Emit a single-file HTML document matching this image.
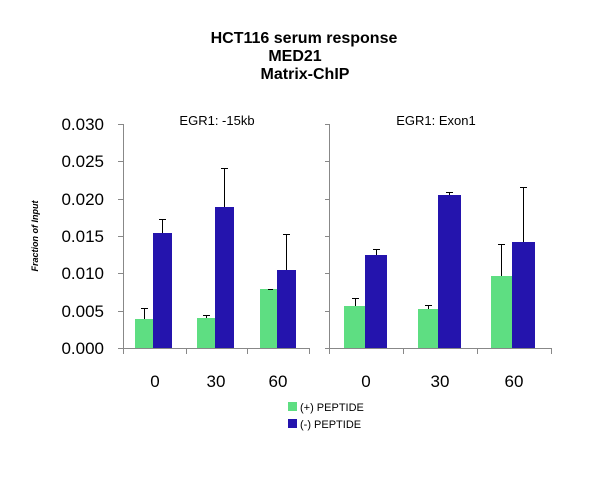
<!DOCTYPE html>
<html><head><style>
body{margin:0;background:#fff;}
svg{display:block;font-family:"Liberation Sans",sans-serif;}
</style></head><body>
<svg width="600" height="499" viewBox="0 0 600 499" xmlns="http://www.w3.org/2000/svg">
<rect width="600" height="499" fill="#fff"/>
<g font-weight="bold" font-size="16" text-anchor="middle" fill="#000">
<text x="304" y="43">HCT116 serum response</text>
<text x="295" y="61">MED21</text>
<text x="305" y="79">Matrix-ChIP</text>
</g>
<g font-size="17" text-anchor="end" fill="#000">
<text x="104" y="130">0.030</text>
<text x="104" y="167">0.025</text>
<text x="104" y="205">0.020</text>
<text x="104" y="242">0.015</text>
<text x="104" y="279">0.010</text>
<text x="104" y="317">0.005</text>
<text x="104" y="354">0.000</text>
</g>
<text transform="translate(38,236) rotate(-90)" font-size="9" font-style="italic" font-weight="bold" text-anchor="middle">Fraction of Input</text>
<g stroke="#888" stroke-width="1" fill="none">
<path d="M123.5 124V348M118 124.5h5.5M118 161.5h5.5M118 199.5h5.5M118 236.5h5.5M118 273.5h5.5M118 311.5h5.5M118 348.5h191"/>
<path d="M123.5 348v6M186.5 348v6M247.5 348v6M309.5 348v6"/>
<path d="M329.5 124V348M325 124.5h4.5M325 161.5h4.5M325 199.5h4.5M325 236.5h4.5M325 273.5h4.5M325 311.5h4.5M325 348.5h226"/>
<path d="M329.5 348v6M403.5 348v6M477.5 348v6M551.5 348v6"/>
</g>
<g font-size="13" text-anchor="middle" fill="#000">
<text x="217" y="125">EGR1: -15kb</text>
<text x="436" y="125">EGR1: Exon1</text>
</g>
<g fill="#5ede82">
<rect x="135" y="319" width="18" height="29"/>
<rect x="197" y="318" width="18" height="30"/>
<rect x="260" y="289" width="17" height="59"/>
<rect x="344" y="306" width="21" height="42"/>
<rect x="418" y="309" width="20" height="39"/>
<rect x="491" y="276" width="21" height="72"/>
</g>
<g fill="#2414ad">
<rect x="153" y="233" width="19" height="115"/>
<rect x="215" y="207" width="19" height="141"/>
<rect x="277" y="270" width="19" height="78"/>
<rect x="365" y="255" width="22" height="93"/>
<rect x="438" y="195" width="23" height="153"/>
<rect x="512" y="242" width="23" height="106"/>
</g>
<g stroke="#000" stroke-width="1" fill="none">
<path d="M144.5 319V308M141 308.5h7"/>
<path d="M162.5 233V219M159 219.5h7"/>
<path d="M206.5 318V315M203 315.5h7"/>
<path d="M224.5 207V168M221 168.5h7"/>
<path d="M268 289.5h5"/>
<path d="M286.5 270V234M283 234.5h7"/>
<path d="M355.5 306V298M352 298.5h7"/>
<path d="M376.5 255V249M373 249.5h7"/>
<path d="M428.5 309V305M425 305.5h7"/>
<path d="M449.5 195V192M446 192.5h7"/>
<path d="M501.5 276V244M498 244.5h7"/>
<path d="M523.5 242V187M520 187.5h7"/>
</g>
<g font-size="17" text-anchor="middle" fill="#000">
<text x="155" y="387">0</text>
<text x="216" y="387">30</text>
<text x="278" y="387">60</text>
<text x="366" y="387">0</text>
<text x="440" y="387">30</text>
<text x="514" y="387">60</text>
</g>
<rect x="288" y="402" width="9" height="9" fill="#5ede82"/>
<rect x="288" y="419" width="9" height="9" fill="#2414ad"/>
<g font-size="11" fill="#000">
<text x="300" y="411">(+) PEPTIDE</text>
<text x="300" y="428">(-) PEPTIDE</text>
</g>
</svg>
</body></html>
